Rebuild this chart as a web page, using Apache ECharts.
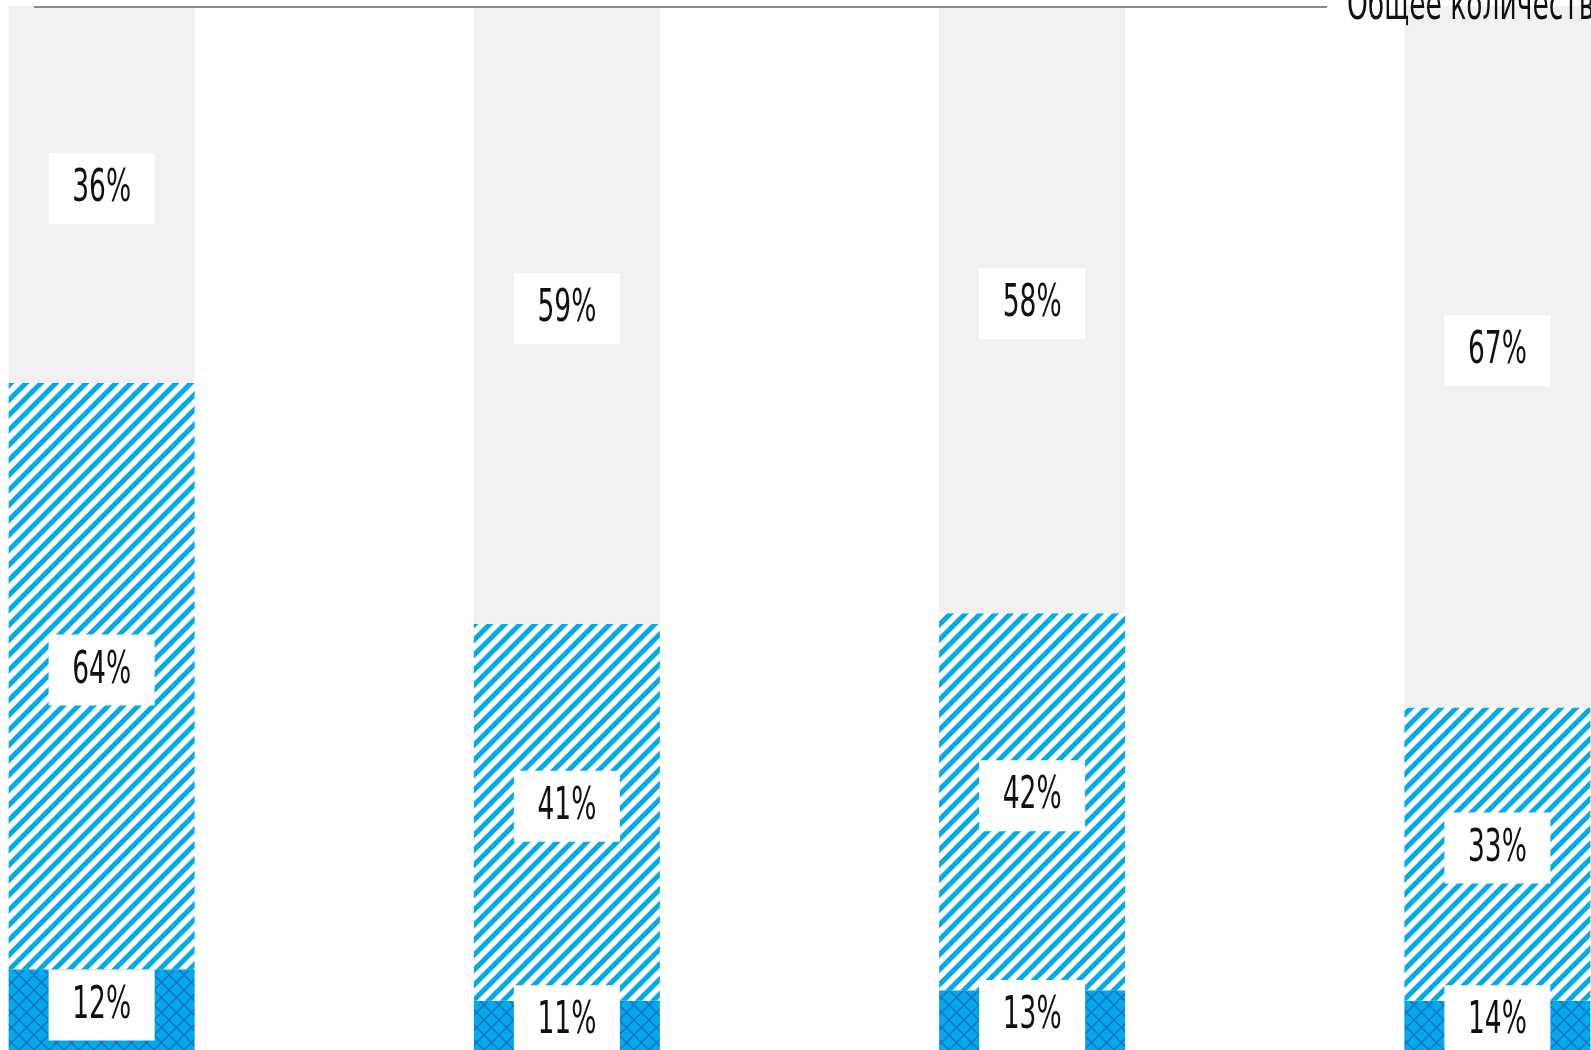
<!DOCTYPE html>
<html>
<head>
<meta charset="utf-8">
<script src="https://cdn.jsdelivr.net/npm/echarts@6/dist/echarts.min.js"></script>
<style>
  html, body { margin: 0; padding: 0; overflow: hidden; background: #fff; width: 1591px; height: 1050px; }
  #chart { position: absolute; left: -131px; top: 0; width: 1861px; height: 1060px; }
</style>
</head>
<body>
<div id="chart"></div>
<script>
const categories = ['A', 'B', 'C', 'D'];
const grayShare = [36, 59, 58, 67];
const hatchShare = [64, 41, 42, 33];
const crossShare = [8, 5, 6, 5];
const innerShare = [12, 11, 13, 14];
const titleText = 'Общее количество';

const BLUE = '#00aaeb';
const FONT = '"DejaVu Sans Condensed", "DejaVu Sans", sans-serif';
const SQUEEZE = 0.67;

const stripePattern = () => {
  const c = document.createElement('canvas');
  c.width = c.height = 15;
  const g = c.getContext('2d');
  g.fillStyle = '#fff';
  g.fillRect(0, 0, 15, 15);
  g.strokeStyle = BLUE;
  g.lineWidth = 5;
  g.beginPath();
  for (const o of [-15, 0, 15]) {
    g.moveTo(o - 3, 18);
    g.lineTo(o + 18, -3);
  }
  g.stroke();
  return c;
};

const crossPattern = () => {
  const c = document.createElement('canvas');
  c.width = c.height = 15;
  const g = c.getContext('2d');
  g.fillStyle = BLUE;
  g.fillRect(0, 0, 15, 15);
  g.strokeStyle = '#1d6cc4';
  g.lineWidth = 1.4;
  g.beginPath();
  for (const o of [-15, 0, 15]) {
    g.moveTo(o - 3, 18); g.lineTo(o + 18, -3);
    g.moveTo(o - 3, -3); g.lineTo(o + 18, 18);
  }
  g.stroke();
  return c;
};

const middle = hatchShare.map((v, i) => v - crossShare[i]);

// label boxes: [category index, value at segment centre, text, pixel shift]
const labelItems = [];
categories.forEach((_, i) => {
  labelItems.push([i, crossShare[i] / 2, innerShare[i] + '%', -6]);
  labelItems.push([i, crossShare[i] + middle[i] / 2, hatchShare[i] + '%', -6]);
  labelItems.push([i, hatchShare[i] + grayShare[i] / 2, grayShare[i] + '%', -6]);
});

const thinText = (text, extra) => ({
  text,
  font: '44px ' + FONT,
  fill: '#111',
  stroke: '#fff',
  lineWidth: 1.3,
  verticalAlign: 'middle',
  ...extra
});

const renderBox = (params, api) => {
  const item = labelItems[params.dataIndex];
  const pt = api.coord([api.value(0), api.value(1)]);
  const y = pt[1] + item[3];
  return {
    type: 'group',
    children: [
      { type: 'rect', shape: { x: pt[0] - 53, y: y - 35.5, width: 106, height: 71 }, style: { fill: '#fff' } },
      { type: 'text', x: pt[0], y: y + 1, scaleX: SQUEEZE, style: thinText(item[2], { align: 'center' }) }
    ]
  };
};

const chart = echarts.init(document.getElementById('chart'), null, { renderer: 'canvas' });
chart.setOption({
  animation: false,
  grid: { left: 0, right: 0, top: 6, bottom: 7 },
  xAxis: { type: 'category', data: categories, show: false },
  yAxis: { type: 'value', min: 0, max: 100, show: false },
  graphic: [
    { type: 'line', shape: { x1: 165, y1: 7, x2: 1458, y2: 7 }, style: { stroke: '#8a8a8a', lineWidth: 2 }, z: 10 },
    { type: 'text', x: 1478, y: 8, scaleX: SQUEEZE, z: 10, style: thinText(titleText, { stroke: null, lineWidth: 0 }) }
  ],
  series: [
    {
      type: 'bar', stack: 'all', barWidth: 186, data: crossShare,
      itemStyle: { color: { image: crossPattern(), repeat: 'repeat' } }
    },
    {
      type: 'bar', stack: 'all', barWidth: 186, data: middle,
      itemStyle: { color: { image: stripePattern(), repeat: 'repeat' } }
    },
    {
      type: 'bar', stack: 'all', barWidth: 186, data: grayShare,
      itemStyle: { color: '#f1f1f1' }
    },
    {
      type: 'custom', data: labelItems, renderItem: renderBox, silent: true, z: 5
    }
  ]
});
</script>
</body>
</html>
